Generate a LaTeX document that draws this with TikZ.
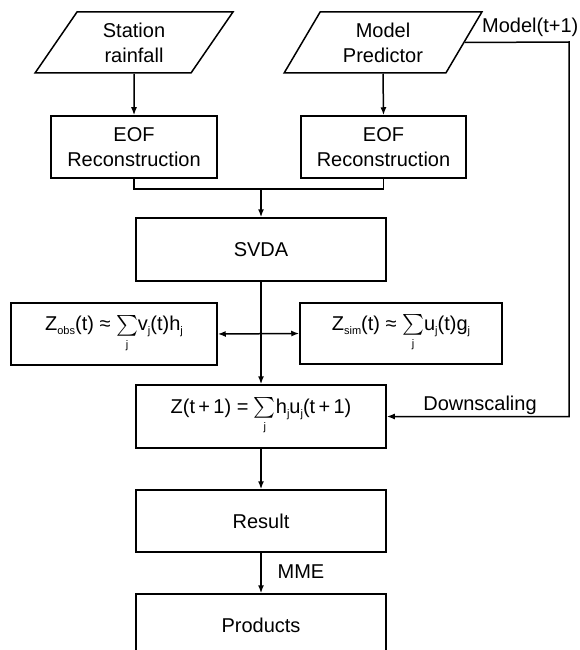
\documentclass[tikz,border=0pt]{standalone}
\usepackage{amsmath}
\usepackage{fontspec}
\setmainfont{Liberation Sans}
\usetikzlibrary{arrows.meta,shapes.geometric}
\newcommand\sbs[1]{\raisebox{-4pt}{\fontsize{11}{11}\selectfont #1}}
\newcommand\sumj{$\sum\limits_{\mbox{\fontsize{11}{11}\selectfont j}}$}
\begin{document}
\begin{tikzpicture}[x=1pt,y=-1pt,
  font=\fontsize{20}{25}\selectfont,
  box/.style={draw,line width=1.5pt,rectangle,inner sep=0pt,align=center,minimum height=62pt},
  para/.style={draw,line width=1.5pt,trapezium,trapezium left angle=60,trapezium right angle=120,trapezium stretches=true,inner sep=0pt,align=center,minimum width=198pt,minimum height=61pt},
  conn/.style={line width=1.5pt,-{Latex[length=8pt,width=6pt]}},
  dconn/.style={line width=1.5pt,{Latex[length=8pt,width=6pt]}-{Latex[length=8pt,width=6pt]}},
  line/.style={line width=1.5pt},
  lbl/.style={inner sep=0pt}
]
\useasboundingbox (0,0) rectangle (580,650);
\clip (0,0) rectangle (580,650);

\node[para] (sr) at (134,42.5) {Station\\rainfall};
\node[para] (mp) at (383,42.5) {Model\\Predictor};

\node[box,minimum width=166pt] (eof1) at (134,147) {EOF\\Reconstruction};
\node[box,minimum width=165pt] (eof2) at (383.5,147) {EOF\\Reconstruction};

\node[box,minimum width=250pt,minimum height=63pt] (svda) at (261,249.5) {SVDA};

\node[box,minimum width=206pt] (zobs) at (114,334) {Z\sbs{obs}(t) ≈ \sumj v\sbs{j}(t)h\sbs{j}};
\node[box,minimum width=202pt,minimum height=61pt] (zsim) at (401,333.5) {Z\sbs{sim}(t) ≈ \sumj u\sbs{j}(t)g\sbs{j}};

\node[box,minimum width=250pt,minimum height=63pt] (zt) at (261,416.5) {Z(t\,+\,1) = \sumj h\sbs{j}u\sbs{j}(t\,+\,1)};

\node[box,minimum width=250pt] (res) at (261,521) {Result};
\node[box,minimum width=250pt] (prod) at (261,625) {Products};

\coordinate (mj) at (261,189);
\coordinate (rc) at (569,42);

\draw[conn] (sr.south) -- (eof1.north);
\draw[conn] (mp.south) -- (eof2.north);
\draw[line] (eof1.south) |- (mj) -| (eof2.south);
\draw[conn] (mj) -- (svda.north);
\draw[conn] (svda.south) -- (zt.north);
\draw[dconn] (zobs.east) -- (zsim.west);
\draw[conn] (mp.east) -- (rc) |- (zt.east);
\draw[conn] (zt.south) -- (res.north);
\draw[conn] (res.south) -- (prod.north);

\node[lbl,anchor=west] (mlbl) at (482,27) {Model(t+1)};
\node[lbl] (dlbl) at (480,405) {Downscaling};
\node[lbl] (mme) at (301,572) {MME};
\end{tikzpicture}
\end{document}
